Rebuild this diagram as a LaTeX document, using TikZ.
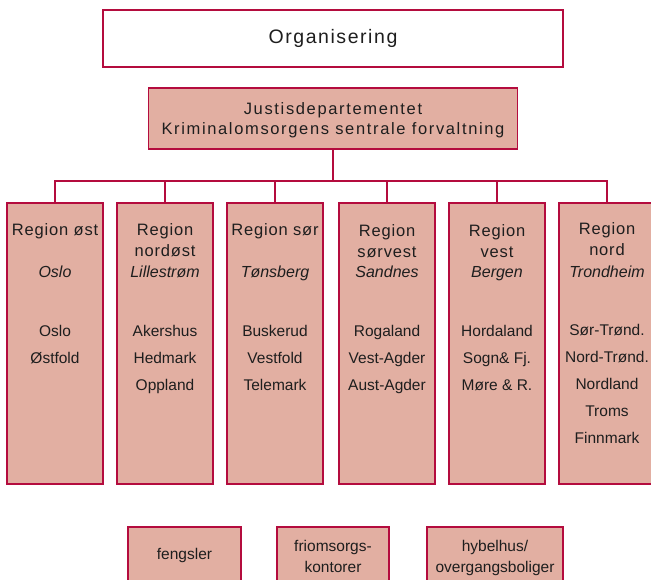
\documentclass[tikz,border=0pt]{standalone}
\usepackage{fontspec}
\setmainfont{Liberation Sans}
\newfontfamily\regionfont[LetterSpace=5]{Liberation Sans}
\newfontfamily\headfont[LetterSpace=10]{Liberation Sans}
\newfontfamily\orgfont[LetterSpace=8]{Liberation Sans}
\definecolor{frame}{RGB}{180,12,62}
\definecolor{salmon}{RGB}{226,175,162}
\definecolor{ink}{RGB}{30,30,30}
\tikzset{
  box/.style={draw=frame, line width=1.8pt, fill=salmon, inner sep=0pt},
  wbox/.style={draw=frame, line width=1.8pt, fill=white, inner sep=0pt},
  conn/.style={draw=frame, line width=1.8pt},
  txt/.style={inner sep=0pt, text=ink, align=center, text height=0.72em, text depth=0.22em},
  head/.style={txt, font=\headfont\fontsize{16.5}{20}\selectfont},
  title/.style={txt, font=\orgfont\fontsize{19.5}{22}\selectfont},
  reg/.style={txt, font=\regionfont\fontsize{16.5}{21}\selectfont},
  city/.style={txt, font=\fontsize{16}{21}\selectfont\itshape},
  county/.style={txt, font=\fontsize{15.5}{27}\selectfont},
  unit/.style={txt, font=\fontsize{15.5}{21}\selectfont},
}
\begin{document}
\begin{tikzpicture}[x=1pt,y=-1pt]
\useasboundingbox (0,0) rectangle (651,580);
\clip (0,0) rectangle (651,580);
% header
\node[wbox, minimum width=460pt, minimum height=57pt] (org) at (333,38.5) {};
\node[title] (orgt) at (333,41.5) {Organisering};
\node[box, minimum width=369pt, minimum height=61pt] (jd) at (333,118.5) {};
\node[head] (jdt) at (333,132.5) {Justisdepartementet\\Kriminalomsorgens sentrale forvaltning};
% regions
\node[box, minimum width=96pt, minimum height=281pt] (r1) at (55,343.5) {};
\node[box, minimum width=96pt, minimum height=281pt] (r2) at (165,343.5) {};
\node[box, minimum width=96pt, minimum height=281pt] (r3) at (275,343.5) {};
\node[box, minimum width=96pt, minimum height=281pt] (r4) at (387,343.5) {};
\node[box, minimum width=96pt, minimum height=281pt] (r5) at (497,343.5) {};
\node[box, minimum width=96pt, minimum height=281pt] (r6) at (607,343.5) {};
% connectors
\coordinate (bus) at (333,181);
\draw[conn] (jd.south) -- (bus);
\foreach \r in {r1,r2,r3,r4,r5,r6} {\draw[conn] (\r.north) |- (bus);}
% region texts
\node[reg] (t1) at (55,233.5) {Region øst};
\node[city] (c1) at (55,275.5) {Oslo};
\node[county] (k1) at (55,360.5) {Oslo\\Østfold};
\node[reg] (t2) at (165,254.5) {Region\\nordøst};
\node[city] (c2) at (165,275.5) {Lillestrøm};
\node[county] (k2) at (165,387.5) {Akershus\\Hedmark\\Oppland};
\node[reg] (t3) at (275,233.5) {Region sør};
\node[city] (c3) at (275,275.5) {Tønsberg};
\node[county] (k3) at (275,387.5) {Buskerud\\Vestfold\\Telemark};
\node[reg] (t4) at (387,255) {Region\\sørvest};
\node[city] (c4) at (387,275.5) {Sandnes};
\node[county] (k4) at (387,387.5) {Rogaland\\Vest-Agder\\Aust-Agder};
\node[reg] (t5) at (497,255) {Region\\vest};
\node[city] (c5) at (497,275.5) {Bergen};
\node[county] (k5) at (497,387.5) {Hordaland\\Sogn\& Fj.\\Møre \& R.};
\node[reg] (t6) at (607,253.5) {Region\\nord};
\node[city] (c6) at (607,275.5) {Trondheim};
\node[county] (k6) at (607,440.5) {Sør-Trønd.\\Nord-Trønd.\\Nordland\\Troms\\Finnmark};
% bottom units
\node[box, minimum width=113pt, minimum height=70pt] (u1) at (184.5,562) {};
\node[unit] (u1t) at (184.5,556.5) {fengsler};
\node[box, minimum width=112pt, minimum height=70pt] (u2) at (333,562) {};
\node[unit] (u2t) at (333,569.5) {friomsorgs-\\kontorer};
\node[box, minimum width=136pt, minimum height=70pt] (u3) at (495,562) {};
\node[unit] (u3t) at (495,569.5) {hybelhus/\\overgangsboliger};
\end{tikzpicture}
\end{document}
